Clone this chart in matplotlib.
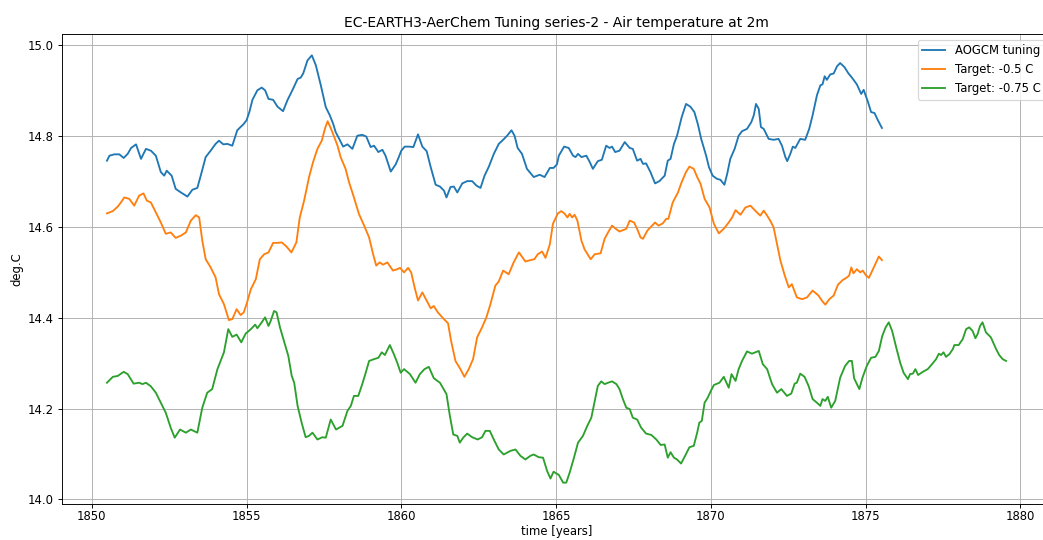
import numpy as np
import matplotlib
matplotlib.use('Agg')
import matplotlib.pyplot as plt

# values
aogcm_t = [1850.49, 1850.57, 1850.73, 1850.89, 1851.03, 1851.16, 1851.27, 1851.43, 1851.59, 1851.75,
           1851.91, 1852.07, 1852.23, 1852.34, 1852.42, 1852.58, 1852.71, 1852.88, 1853.09, 1853.25,
           1853.41, 1853.52, 1853.68, 1853.84, 1854.00, 1854.11, 1854.25, 1854.38, 1854.54, 1854.70,
           1854.91, 1855.00, 1855.09, 1855.19, 1855.35, 1855.49, 1855.60, 1855.71, 1855.86, 1856.00,
           1856.18, 1856.32, 1856.48, 1856.65, 1856.75, 1856.83, 1856.97, 1857.11, 1857.24, 1857.40,
           1857.56, 1857.69, 1857.80, 1857.88, 1858.01, 1858.12, 1858.26, 1858.42, 1858.58, 1858.74,
           1858.87, 1859.01, 1859.12, 1859.26, 1859.39, 1859.49, 1859.66, 1859.82, 1859.92, 1860.00,
           1860.11, 1860.25, 1860.39, 1860.54, 1860.68, 1860.82, 1860.95, 1861.11, 1861.25, 1861.38,
           1861.46, 1861.59, 1861.70, 1861.81, 1861.97, 1862.13, 1862.29, 1862.43, 1862.56, 1862.69,
           1862.83, 1862.99, 1863.15, 1863.29, 1863.42, 1863.56, 1863.66, 1863.76, 1863.90, 1864.06,
           1864.28, 1864.47, 1864.63, 1864.80, 1864.92, 1865.03, 1865.09, 1865.26, 1865.41, 1865.55,
           1865.63, 1865.71, 1865.82, 1865.98, 1866.09, 1866.19, 1866.35, 1866.48, 1866.62, 1866.73,
           1866.81, 1866.91, 1867.05, 1867.22, 1867.38, 1867.48, 1867.62, 1867.73, 1867.81, 1867.91,
           1868.05, 1868.20, 1868.34, 1868.51, 1868.61, 1868.70, 1868.81, 1868.91, 1869.06, 1869.20,
           1869.34, 1869.47, 1869.58, 1869.69, 1869.85, 1869.94, 1870.06, 1870.20, 1870.31, 1870.44,
           1870.53, 1870.63, 1870.77, 1870.90, 1871.01, 1871.17, 1871.31, 1871.39, 1871.46, 1871.55,
           1871.62, 1871.71, 1871.87, 1872.03, 1872.19, 1872.30, 1872.41, 1872.47, 1872.57, 1872.65,
           1872.73, 1872.89, 1873.05, 1873.18, 1873.29, 1873.43, 1873.54, 1873.61, 1873.68, 1873.75,
           1873.86, 1873.97, 1874.08, 1874.18, 1874.32, 1874.45, 1874.56, 1874.72, 1874.86, 1874.94,
           1875.08, 1875.18, 1875.29, 1875.40, 1875.53]
aogcm_v = [14.746, 14.757, 14.760, 14.760, 14.752, 14.761, 14.774, 14.782, 14.750, 14.772,
           14.768, 14.757, 14.721, 14.713, 14.724, 14.713, 14.684, 14.676, 14.667, 14.682,
           14.686, 14.713, 14.754, 14.768, 14.783, 14.790, 14.782, 14.783, 14.779, 14.813,
           14.827, 14.835, 14.853, 14.880, 14.901, 14.907, 14.901, 14.882, 14.880, 14.865,
           14.855, 14.879, 14.901, 14.926, 14.929, 14.938, 14.967, 14.978, 14.956, 14.912,
           14.864, 14.846, 14.827, 14.809, 14.792, 14.777, 14.782, 14.772, 14.801, 14.803,
           14.799, 14.776, 14.779, 14.765, 14.770, 14.757, 14.722, 14.738, 14.754, 14.768,
           14.777, 14.777, 14.776, 14.804, 14.777, 14.767, 14.732, 14.693, 14.689, 14.680,
           14.665, 14.688, 14.689, 14.676, 14.696, 14.701, 14.701, 14.691, 14.686, 14.713,
           14.733, 14.761, 14.783, 14.792, 14.801, 14.813, 14.801, 14.774, 14.761, 14.728,
           14.710, 14.715, 14.710, 14.730, 14.730, 14.738, 14.757, 14.777, 14.774, 14.757,
           14.754, 14.761, 14.754, 14.757, 14.743, 14.728, 14.745, 14.748, 14.779, 14.774,
           14.777, 14.765, 14.768, 14.787, 14.774, 14.772, 14.746, 14.750, 14.739, 14.740,
           14.721, 14.696, 14.701, 14.713, 14.746, 14.750, 14.783, 14.801, 14.842, 14.871,
           14.865, 14.853, 14.827, 14.794, 14.757, 14.732, 14.713, 14.706, 14.704, 14.693,
           14.717, 14.750, 14.772, 14.801, 14.811, 14.816, 14.831, 14.846, 14.871, 14.860,
           14.820, 14.816, 14.794, 14.792, 14.794, 14.779, 14.754, 14.745, 14.761, 14.777,
           14.774, 14.794, 14.792, 14.816, 14.846, 14.890, 14.912, 14.914, 14.932, 14.924,
           14.936, 14.938, 14.954, 14.961, 14.952, 14.938, 14.929, 14.914, 14.893, 14.902,
           14.875, 14.853, 14.851, 14.835, 14.818]

t05_t = [1850.49, 1850.68, 1850.84, 1850.94, 1851.05, 1851.21, 1851.37, 1851.53, 1851.67, 1851.78,
         1851.91, 1852.07, 1852.23, 1852.39, 1852.55, 1852.71, 1852.88, 1853.04, 1853.20, 1853.36,
         1853.47, 1853.57, 1853.68, 1853.84, 1854.00, 1854.11, 1854.27, 1854.43, 1854.54, 1854.68,
         1854.81, 1854.91, 1855.00, 1855.14, 1855.30, 1855.43, 1855.57, 1855.71, 1855.86, 1856.00,
         1856.14, 1856.29, 1856.45, 1856.61, 1856.72, 1856.86, 1857.02, 1857.15, 1857.29, 1857.43,
         1857.54, 1857.62, 1857.75, 1857.94, 1858.04, 1858.20, 1858.31, 1858.47, 1858.63, 1858.80,
         1858.96, 1859.09, 1859.19, 1859.30, 1859.41, 1859.55, 1859.73, 1859.87, 1859.96, 1860.09,
         1860.22, 1860.32, 1860.43, 1860.54, 1860.68, 1860.82, 1860.95, 1861.05, 1861.18, 1861.35,
         1861.51, 1861.61, 1861.75, 1861.91, 1862.04, 1862.18, 1862.32, 1862.45, 1862.61, 1862.75,
         1862.88, 1863.04, 1863.15, 1863.29, 1863.47, 1863.63, 1863.80, 1864.01, 1864.17, 1864.30,
         1864.41, 1864.55, 1864.66, 1864.80, 1864.90, 1865.06, 1865.17, 1865.28, 1865.37, 1865.44,
         1865.52, 1865.60, 1865.69, 1865.82, 1865.92, 1866.03, 1866.12, 1866.25, 1866.44, 1866.57,
         1866.68, 1866.81, 1866.91, 1867.05, 1867.16, 1867.27, 1867.38, 1867.52, 1867.62, 1867.73,
         1867.81, 1867.95, 1868.10, 1868.20, 1868.31, 1868.45, 1868.56, 1868.63, 1868.77, 1868.94,
         1869.06, 1869.20, 1869.31, 1869.45, 1869.56, 1869.67, 1869.80, 1869.96, 1870.10, 1870.26,
         1870.42, 1870.58, 1870.69, 1870.80, 1870.96, 1871.12, 1871.28, 1871.42, 1871.60, 1871.71,
         1871.82, 1871.92, 1872.03, 1872.14, 1872.25, 1872.39, 1872.52, 1872.62, 1872.78, 1872.95,
         1873.11, 1873.29, 1873.48, 1873.61, 1873.70, 1873.83, 1873.97, 1874.11, 1874.26, 1874.40,
         1874.47, 1874.54, 1874.61, 1874.72, 1874.83, 1874.91, 1875.02, 1875.11, 1875.22, 1875.32,
         1875.43, 1875.53]
t05_v = [14.630, 14.635, 14.645, 14.654, 14.665, 14.662, 14.647, 14.669, 14.674, 14.658,
         14.654, 14.632, 14.610, 14.585, 14.588, 14.576, 14.581, 14.588, 14.614, 14.626,
         14.621, 14.570, 14.529, 14.511, 14.489, 14.452, 14.430, 14.395, 14.397, 14.419,
         14.406, 14.412, 14.430, 14.463, 14.485, 14.529, 14.540, 14.544, 14.565, 14.565,
         14.566, 14.557, 14.544, 14.566, 14.621, 14.658, 14.710, 14.743, 14.772, 14.790,
         14.818, 14.833, 14.813, 14.779, 14.754, 14.728, 14.699, 14.665, 14.629, 14.603,
         14.577, 14.540, 14.515, 14.522, 14.517, 14.522, 14.504, 14.507, 14.510, 14.500,
         14.510, 14.500, 14.467, 14.438, 14.456, 14.438, 14.421, 14.426, 14.412, 14.399,
         14.388, 14.349, 14.305, 14.287, 14.270, 14.287, 14.309, 14.357, 14.379, 14.401,
         14.430, 14.471, 14.480, 14.504, 14.496, 14.522, 14.544, 14.524, 14.527, 14.529,
         14.540, 14.546, 14.532, 14.562, 14.607, 14.630, 14.635, 14.629, 14.621, 14.629,
         14.621, 14.627, 14.614, 14.570, 14.551, 14.539, 14.529, 14.540, 14.542, 14.574,
         14.588, 14.603, 14.597, 14.590, 14.593, 14.596, 14.614, 14.610, 14.596, 14.577,
         14.574, 14.592, 14.603, 14.610, 14.603, 14.608, 14.618, 14.618, 14.654, 14.676,
         14.699, 14.721, 14.733, 14.728, 14.710, 14.695, 14.662, 14.643, 14.607, 14.586,
         14.596, 14.610, 14.621, 14.637, 14.627, 14.643, 14.647, 14.637, 14.625, 14.636,
         14.625, 14.614, 14.599, 14.563, 14.526, 14.493, 14.467, 14.474, 14.445, 14.441,
         14.445, 14.460, 14.449, 14.436, 14.429, 14.441, 14.449, 14.473, 14.483, 14.489,
         14.493, 14.511, 14.498, 14.507, 14.500, 14.504, 14.493, 14.488, 14.504, 14.518,
         14.535, 14.527]

t075_t = [1850.49, 1850.68, 1850.84, 1851.03, 1851.16, 1851.35, 1851.53, 1851.64, 1851.75, 1851.91,
          1852.07, 1852.23, 1852.39, 1852.55, 1852.68, 1852.85, 1853.04, 1853.20, 1853.41, 1853.57,
          1853.73, 1853.89, 1854.06, 1854.27, 1854.41, 1854.54, 1854.68, 1854.83, 1854.97, 1855.14,
          1855.28, 1855.35, 1855.46, 1855.60, 1855.71, 1855.78, 1855.89, 1855.97, 1856.08, 1856.22,
          1856.35, 1856.46, 1856.54, 1856.65, 1856.78, 1856.91, 1857.02, 1857.13, 1857.29, 1857.45,
          1857.56, 1857.65, 1857.72, 1857.89, 1858.10, 1858.26, 1858.37, 1858.47, 1858.61, 1858.74,
          1858.85, 1858.96, 1859.12, 1859.26, 1859.37, 1859.47, 1859.63, 1859.76, 1859.87, 1859.98,
          1860.09, 1860.28, 1860.46, 1860.60, 1860.75, 1860.89, 1861.05, 1861.25, 1861.46, 1861.57,
          1861.68, 1861.81, 1861.89, 1862.00, 1862.13, 1862.29, 1862.47, 1862.61, 1862.72, 1862.86,
          1863.01, 1863.15, 1863.31, 1863.53, 1863.69, 1863.85, 1864.01, 1864.17, 1864.28, 1864.44,
          1864.58, 1864.71, 1864.82, 1864.92, 1865.09, 1865.23, 1865.33, 1865.44, 1865.58, 1865.71,
          1865.87, 1866.01, 1866.14, 1866.25, 1866.35, 1866.46, 1866.57, 1866.68, 1866.81, 1866.95,
          1867.05, 1867.16, 1867.27, 1867.38, 1867.48, 1867.62, 1867.75, 1867.91, 1868.08, 1868.24,
          1868.38, 1868.51, 1868.61, 1868.70, 1868.81, 1868.91, 1869.04, 1869.17, 1869.31, 1869.45,
          1869.56, 1869.63, 1869.71, 1869.80, 1869.90, 1870.01, 1870.10, 1870.28, 1870.42, 1870.58,
          1870.67, 1870.80, 1870.90, 1871.01, 1871.17, 1871.33, 1871.55, 1871.68, 1871.82, 1871.98,
          1872.14, 1872.28, 1872.46, 1872.60, 1872.71, 1872.78, 1872.89, 1873.03, 1873.16, 1873.29,
          1873.43, 1873.54, 1873.61, 1873.70, 1873.78, 1873.89, 1874.02, 1874.18, 1874.34, 1874.47,
          1874.56, 1874.63, 1874.80, 1874.90, 1875.04, 1875.18, 1875.32, 1875.43, 1875.54, 1875.65,
          1875.75, 1875.86, 1875.99, 1876.12, 1876.23, 1876.37, 1876.44, 1876.53, 1876.61, 1876.70,
          1876.85, 1877.01, 1877.15, 1877.28, 1877.37, 1877.44, 1877.52, 1877.60, 1877.71, 1877.82,
          1877.87, 1878.01, 1878.14, 1878.25, 1878.35, 1878.46, 1878.55, 1878.62, 1878.70, 1878.78,
          1878.89, 1879.05, 1879.22, 1879.32, 1879.43, 1879.54]
t075_v = [14.257, 14.270, 14.272, 14.281, 14.276, 14.255, 14.257, 14.254, 14.257, 14.249,
          14.235, 14.213, 14.191, 14.158, 14.136, 14.154, 14.147, 14.154, 14.147, 14.202,
          14.235, 14.243, 14.287, 14.324, 14.375, 14.358, 14.363, 14.346, 14.365, 14.375,
          14.385, 14.377, 14.387, 14.401, 14.382, 14.393, 14.415, 14.412, 14.379, 14.346,
          14.316, 14.272, 14.257, 14.206, 14.169, 14.137, 14.140, 14.147, 14.132, 14.137,
          14.136, 14.158, 14.176, 14.154, 14.162, 14.195, 14.206, 14.228, 14.228, 14.254,
          14.279, 14.305, 14.309, 14.312, 14.324, 14.318, 14.340, 14.320, 14.301, 14.279,
          14.287, 14.276, 14.257, 14.276, 14.287, 14.292, 14.267, 14.257, 14.232, 14.184,
          14.143, 14.140, 14.125, 14.136, 14.145, 14.137, 14.132, 14.137, 14.151, 14.151,
          14.129, 14.110, 14.099, 14.107, 14.110, 14.096, 14.088, 14.096, 14.099, 14.093,
          14.092, 14.063, 14.046, 14.061, 14.054, 14.037, 14.037, 14.059, 14.092, 14.125,
          14.140, 14.162, 14.180, 14.217, 14.250, 14.260, 14.254, 14.257, 14.260, 14.254,
          14.243, 14.221, 14.202, 14.199, 14.180, 14.176, 14.158, 14.145, 14.142, 14.132,
          14.120, 14.121, 14.092, 14.104, 14.092, 14.088, 14.079, 14.096, 14.115, 14.118,
          14.147, 14.169, 14.173, 14.213, 14.224, 14.240, 14.252, 14.257, 14.270, 14.246,
          14.276, 14.261, 14.287, 14.305, 14.326, 14.321, 14.327, 14.298, 14.287, 14.254,
          14.235, 14.243, 14.228, 14.233, 14.255, 14.257, 14.277, 14.270, 14.250, 14.221,
          14.213, 14.206, 14.221, 14.217, 14.226, 14.202, 14.217, 14.268, 14.294, 14.305,
          14.305, 14.267, 14.243, 14.268, 14.294, 14.312, 14.314, 14.327, 14.360, 14.379,
          14.390, 14.371, 14.335, 14.301, 14.279, 14.265, 14.276, 14.277, 14.287, 14.274,
          14.281, 14.287, 14.298, 14.309, 14.321, 14.318, 14.324, 14.314, 14.320, 14.331,
          14.340, 14.340, 14.353, 14.375, 14.379, 14.371, 14.355, 14.364, 14.382, 14.390,
          14.368, 14.357, 14.331, 14.318, 14.309, 14.305]

# the reference looks like a larger figure shrunk down, so use a lower dpi
DPI = 83.44
fig = plt.figure(figsize=(12.5, 6.472), dpi=DPI)
# the axes runs past the right edge of the picture, as in the reference
ax = fig.add_axes([62/1043, 36/540, 989/1043, 470/540])

ax.plot(aogcm_t, aogcm_v, label='AOGCM tuning', lw=1.6)
ax.plot(t05_t, t05_v, label='Target: -0.5 C', lw=1.6)
ax.plot(t075_t, t075_v, label='Target: -0.75 C', lw=1.6)

ax.grid(True)
ax.tick_params(axis='x', pad=1.5)
ax.set_xlabel('time [years]', labelpad=1.5)
ax.set_ylabel('deg.C')
ax.set_title('EC-EARTH3-AerChem Tuning series-2 - Air temperature at 2m')
ax.legend(loc='upper right')

fig.savefig('out.png', dpi=DPI)
